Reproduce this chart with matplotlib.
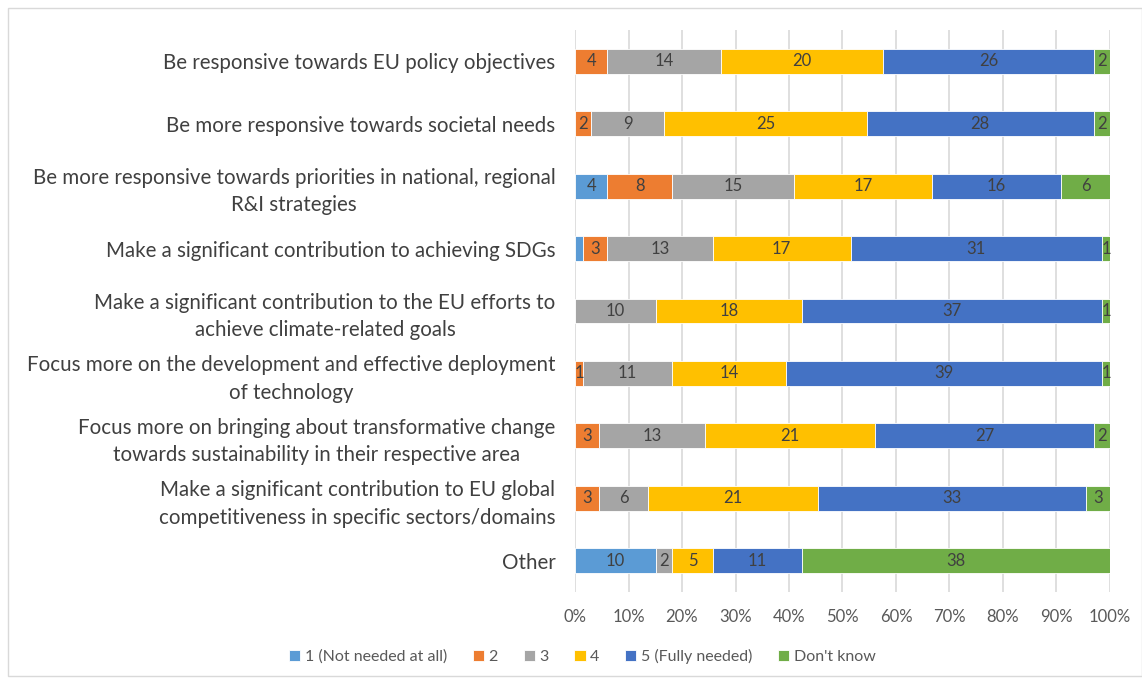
import matplotlib.pyplot as plt
from matplotlib.patches import Rectangle
import numpy as np

plt.rcParams['font.family'] = ['Lato', 'DejaVu Sans']

# Categories top to bottom
categories = [
    "Be responsive towards EU policy objectives",
    "Be more responsive towards societal needs",
    "Be more responsive towards priorities in national, regional\nR&I strategies",
    "Make a significant contribution to achieving SDGs",
    "Make a significant contribution to the EU efforts to\nachieve climate-related goals",
    "Focus more on the development and effective deployment\nof technology",
    "Focus more on bringing about transformative change\ntowards sustainability in their respective area",
    "Make a significant contribution to EU global\ncompetitiveness in specific sectors/domains",
    "Other",
]

series_names = ["1 (Not needed at all)", "2", "3", "4", "5 (Fully needed)", "Don't know"]
not_needed = [0, 0, 4, 1, 0, 0, 0, 0, 10]
two = [4, 2, 8, 3, 0, 1, 3, 3, 0]
three = [14, 9, 15, 13, 10, 11, 13, 6, 2]
four = [20, 25, 17, 17, 18, 14, 21, 21, 5]
fully_needed = [26, 28, 16, 31, 37, 39, 27, 33, 11]
dont_know = [2, 2, 6, 1, 1, 1, 2, 3, 38]

colors = ["#5B9BD5", "#ED7D31", "#A5A5A5", "#FFC000", "#4472C4", "#70AD47"]

# labels that the source chart leaves out (row, series)
hidden_labels = {(3, 0)}

data = np.array([not_needed, two, three, four, fully_needed, dont_know], dtype=float)
totals = data.sum(axis=0)
shares = data / totals

fig = plt.figure(figsize=(11.42, 6.82), dpi=100)
ax = fig.add_axes([575 / 1142, 1 - 592 / 682, 535 / 1142, 562 / 682])

y = np.arange(len(categories))
left = np.zeros(len(categories))
for i, name in enumerate(series_names):
    ax.barh(y, shares[i], left=left, height=0.4, color=colors[i],
            edgecolor="white", linewidth=0.6, label=name, zorder=3)
    for r in range(len(categories)):
        v = data[i, r]
        if v > 0 and (r, i) not in hidden_labels:
            ax.text(left[r] + shares[i, r] / 2, y[r], "%d" % v, ha="center", va="center",
                    fontsize=12, color="#404040", zorder=4)
    left += shares[i]

ax.set_ylim(len(categories) - 0.5, -0.5)
ax.set_xlim(0, 1)
ax.set_yticks(y)
ax.set_yticklabels(categories, fontsize=14.8, color="#404040",
                   multialignment="center", linespacing=1.45)
ax.set_xticks(np.linspace(0, 1, 11))
ax.set_xticklabels(["%d%%" % p for p in range(0, 101, 10)], fontsize=12, color="#595959")
ax.tick_params(axis="both", length=0)
ax.tick_params(axis="y", pad=14)
ax.tick_params(axis="x", pad=12)
ax.grid(axis="x", color="#D9D9D9", linewidth=1.2, zorder=0)
for s in ax.spines.values():
    s.set_visible(False)

fig.legend(loc="lower center", bbox_to_anchor=(0.51, 0.005), ncol=6, frameon=False,
           fontsize=11.5, handlelength=0.7, handleheight=0.7, handletextpad=0.3,
           columnspacing=1.6, labelcolor="#595959")

fig.patches.append(Rectangle((8 / 1142, 6 / 682), 1 - 8 / 1142, 1 - 14 / 682,
                             transform=fig.transFigure, fill=False,
                             edgecolor="#D9D9D9", linewidth=1))

fig.savefig("out.png", dpi=100)
